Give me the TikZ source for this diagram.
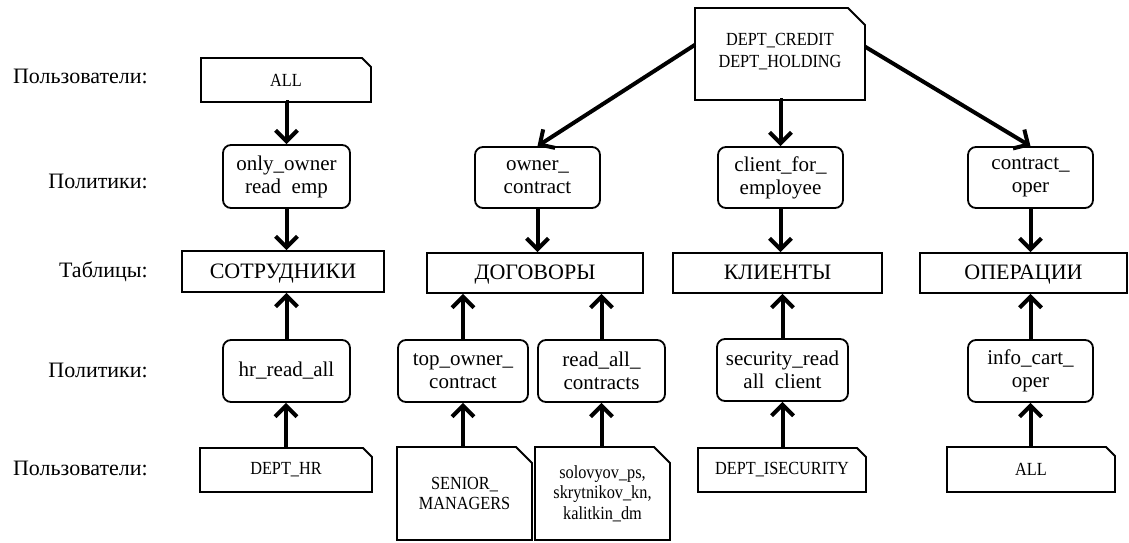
\documentclass[tikz,border=0pt]{standalone}
\usepackage{fontspec}
\setmainfont{Liberation Serif}
\newfontfamily\narrowf[FakeStretch=0.88]{Liberation Serif}
\usetikzlibrary{arrows.meta,calc}
\begin{document}
\begin{tikzpicture}[x=1pt,y=-1pt,
 lbl/.style={anchor=east,font=\fontsize{22}{26}\selectfont,inner sep=0pt},
 pol/.style={draw,line width=1.8pt,rounded corners=8pt,align=center,font=\fontsize{21}{23}\selectfont,inner sep=0pt},
 tbl/.style={draw,line width=1.8pt,font=\fontsize{22}{26}\selectfont,inner sep=0pt,text height=14.5pt,text depth=1pt},
 usr/.style={inner sep=0pt,outer sep=0pt,align=center,font=\narrowf\fontsize{18.5}{20.5}\selectfont},
 boxline/.style={line width=1.8pt,line join=miter},
 arr/.style={line width=4pt,-{Straight Barb[length=11pt,width=22pt]}},
]
\useasboundingbox (0,0) rectangle (1129,542);

% row labels
\node[lbl] (l1) at (148,76) {Пользователи:};
\node[lbl] (l2) at (148,181) {Политики:};
\node[lbl] (l3) at (148,272) {Таблицы:};
\node[lbl] (l4) at (148,370) {Политики:};
\node[lbl] (l5) at (148,468) {Пользователи:};

% column 1
\node[usr,minimum width=170pt,minimum height=44pt] (uAll) at (286,80) {ALL};
\node[pol,minimum width=127pt,minimum height=63pt] (pOwn) at (286.5,176.5) {only\_owner\\read~~emp};
\node[tbl,minimum width=202pt,minimum height=41pt] (tEmp) at (283,271.5) {СОТРУДНИКИ};
\node[pol,minimum width=127pt,minimum height=62pt] (pHr) at (286.5,371) {hr\_read\_all};
\node[usr,minimum width=172pt,minimum height=44pt] (uHr) at (286,470) {DEPT\_HR};

% column 2
\node[pol,minimum width=125pt,minimum height=61pt] (pOC) at (537.5,177.5) {owner\_\\contract};
\node[tbl,minimum width=216pt,minimum height=40pt] (tDog) at (535,273) {ДОГОВОРЫ};
\node[pol,minimum width=130pt,minimum height=62pt] (pTop) at (463,371) {top\_owner\_\\contract};
\node[pol,minimum width=127pt,minimum height=62pt] (pRead) at (601.5,371) {read\_all\_\\contracts};
\node[usr,minimum width=135pt,minimum height=93pt] (uSen) at (464.5,493.5) {SENIOR\_\\MANAGERS};
\node[usr,minimum width=135pt,minimum height=93pt] (uSol) at (602.5,493.5) {solovyov\_ps,\\skrytnikov\_kn,\\kalitkin\_dm};

% column 3
\node[usr,minimum width=170pt,minimum height=92pt,text depth=8pt,font=\narrowf\fontsize{18.5}{22}\selectfont] (uCred) at (780,54) {DEPT\_CREDIT\\DEPT\_HOLDING};
\node[pol,minimum width=125pt,minimum height=61pt] (pCli) at (780.5,177.5) {client\_for\_\\employee};
\node[tbl,minimum width=209pt,minimum height=40pt] (tCli) at (777.5,273) {КЛИЕНТЫ};
\node[pol,minimum width=131pt,minimum height=62pt] (pSec) at (782.5,370) {security\_read\\all~~client};
\node[usr,minimum width=168pt,minimum height=44pt] (uSec) at (782,470) {DEPT\_ISECURITY};

% column 4
\node[pol,minimum width=125pt,minimum height=61pt] (pCon) at (1030.5,177.5) {contract\_\\oper};
\node[tbl,minimum width=207pt,minimum height=40pt] (tOp) at (1023.5,273) {ОПЕРАЦИИ};
\node[pol,minimum width=125pt,minimum height=62pt] (pInfo) at (1030.5,371) {info\_cart\_\\oper};
\node[usr,minimum width=168pt,minimum height=45pt] (uAll2) at (1031,469.5) {ALL};

% user boxes with cut corner
\foreach \n/\c in {uAll/9,uHr/9,uSen/16,uSol/16,uCred/17,uSec/9,uAll2/9}{
  \draw[boxline] (\n.south west) -- (\n.north west) -- ([xshift=-\c pt]\n.north east)
     -- ([yshift=-\c pt]\n.north east) -- (\n.south east) -- cycle;
}

% arrows
\draw[arr] (uAll.south) -- (uAll.south -| pOwn.north) -- (pOwn.north);
\draw[arr] (pOwn.south) -- (pOwn.south |- tEmp.north);
\draw[arr] (pHr.north) -- (pHr.north |- tEmp.south);
\draw[arr] (uHr.north) -- (uHr.north |- pHr.south);

\draw[arr] ($(uCred.north west)!0.4!(uCred.south west)$) -- (pOC.north);
\draw[arr] (pOC.south) -- (pOC.south |- tDog.north);
\draw[arr] (pTop.north) -- (pTop.north |- tDog.south);
\draw[arr] (pRead.north) -- (pRead.north |- tDog.south);
\draw[arr] (uSen.north -| pTop.south) -- (pTop.south);
\draw[arr] (uSol.north -| pRead.south) -- (pRead.south);

\draw[arr] (uCred.south) -- (uCred.south -| pCli.north) -- (pCli.north);
\draw[arr] (pCli.south) -- (pCli.south |- tCli.north);
\draw[arr] (pSec.north) -- (pSec.north |- tCli.south);
\draw[arr] (uSec.north -| pSec.south) -- (pSec.south);

\draw[arr] ($(uCred.north east)!0.42!(uCred.south east)$) -- (pCon.north);
\draw[arr] (pCon.south) -- (pCon.south |- tOp.north);
\draw[arr] (pInfo.north) -- (pInfo.north |- tOp.south);
\draw[arr] (uAll2.north -| pInfo.south) -- (pInfo.south);
\end{tikzpicture}
\end{document}
